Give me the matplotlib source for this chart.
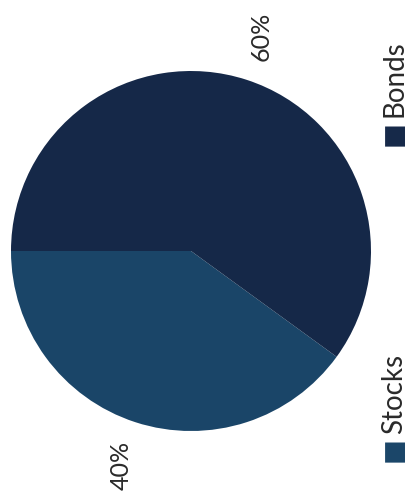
import matplotlib.pyplot as plt

labels = ['Stocks', 'Bonds']
values = [40, 60]
colors = ['#1a4568', '#152848']

plt.rcParams['font.family'] = ['Lato', 'DejaVu Sans']

fig = plt.figure(figsize=(4.09, 5.04), dpi=100)
ax = fig.add_axes([0, 0, 1, 1])

wedges, texts, autotexts = ax.pie(values, colors=colors, startangle=180,
                                  counterclock=True, radius=1.0,
                                  autopct='%1.0f%%', pctdistance=1.255,
                                  textprops={'fontsize': 18, 'color': '#2a2a2a'})
for t in autotexts:
    t.set_rotation(90)
    t.set_va('center')
    t.set_ha('center')

ax.set_aspect('auto')
ax.set_xlim(-191 / 180, 218 / 180)
ax.set_ylim(-253 / 180, 251 / 180)
ax.axis('off')

# легенда, повернутая на 90 градусов
leg_y = [-1.105, 0.655]
for lab, col, y in zip(labels, colors, leg_y):
    ax.text(1.128, y, '■', color=col, rotation=90, fontsize=19,
            ha='center', va='center', family=['DejaVu Sans'])
    ax.text(1.128, y + 0.09, lab, color='#2a2a2a', rotation=90, fontsize=20,
            ha='center', va='bottom')

fig.savefig('out.png', dpi=100)
